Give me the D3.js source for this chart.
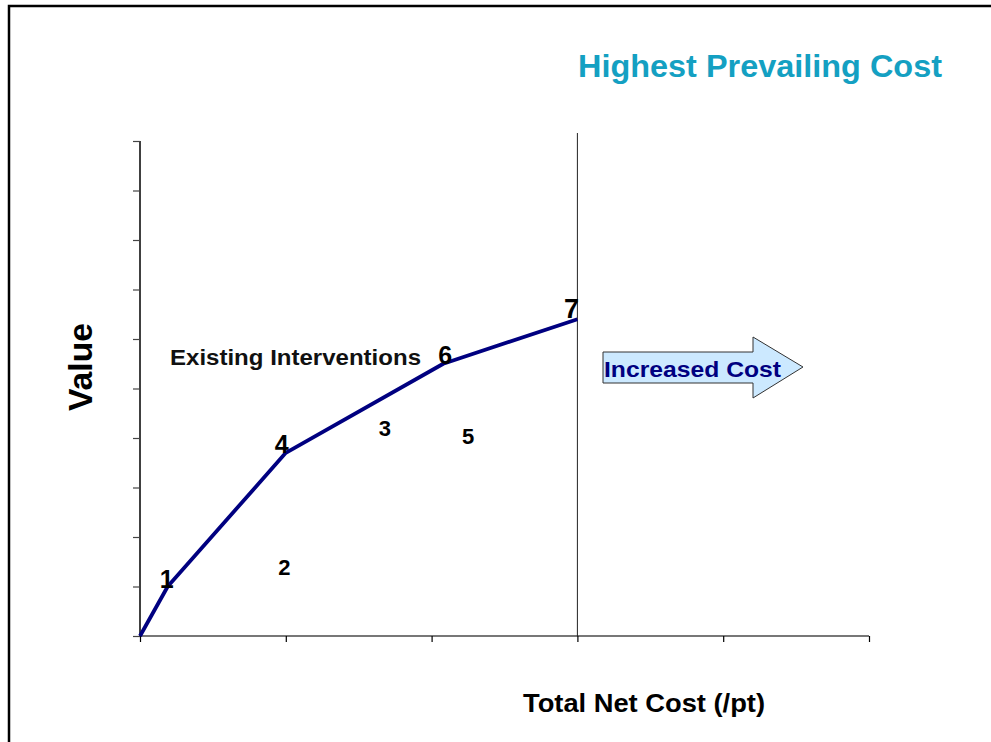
<!DOCTYPE html>
<html><head><meta charset="utf-8">
<script src="https://cdn.jsdelivr.net/npm/d3@7"></script>
<style>html,body{margin:0;padding:0;background:#fff;}svg{display:block;font-family:"Liberation Sans",Arial,sans-serif;}</style>
</head><body>
<svg id="chart" width="991" height="742"></svg>
<script>
// Frontier (efficient interventions) joined by the line
const frontierLabels = ["0", "1", "4", "6", "7"];
const frontierCost   = [0, 0.19, 1.0, 2.08, 3.0];
const frontierValue  = [0, 1.0, 3.7, 5.5, 6.4];
// Dominated interventions (labels only)
const otherLabels = ["2", "3", "5"];
const otherCost   = [0.99, 1.68, 2.25];
const otherValue  = [1.4, 4.2, 4.05];
const xTicks = [0, 1, 2, 3, 4, 5];
const yTicks = [0, 1, 2, 3, 4, 5, 6, 7, 8, 9, 10];
const prevailingCost = 3.0;

const svg = d3.select("#chart");
// frame
svg.append("path").attr("d","M9,760 L9,6 L1000,6").attr("fill","none").attr("stroke","#000").attr("stroke-width",2.5);

const x = d3.scaleLinear().domain([0,5]).range([140,869]);
const y = d3.scaleLinear().domain([0,10]).range([636,141]);

// y axis
const ya = svg.append("g").attr("transform","translate(140,0)")
  .call(d3.axisLeft(y).tickValues(yTicks).tickSize(7).tickFormat(""));
ya.select(".domain").attr("stroke","#000").attr("stroke-width",1.5).attr("d","M0,141V636");
ya.selectAll(".tick line").attr("stroke","#444").attr("stroke-width",1.2);

// x axis
const xa = svg.append("g").attr("transform","translate(0,636)")
  .call(d3.axisBottom(x).tickValues(xTicks).tickSize(6).tickFormat(""));
xa.select(".domain").attr("stroke","#777").attr("stroke-width",2).attr("d","M140,0H869");
xa.selectAll(".tick line").attr("stroke","#000").attr("stroke-width",1.2);

// prevailing cost line
svg.append("line").attr("x1",x(prevailingCost)).attr("x2",x(prevailingCost))
  .attr("y1",133).attr("y2",636).attr("stroke","#222").attr("stroke-width",1);

// frontier line
const pts = frontierCost.map((c,i)=>[x(c), y(frontierValue[i])]);
svg.append("path").attr("d", d3.line()(pts)).attr("fill","none")
  .attr("stroke","#000080").attr("stroke-width",3.8).attr("stroke-linejoin","round");

// frontier labels
const fOff = {"1":[-1,1],"4":[-4,0],"6":[2,0],"7":[-6,-1]};
const fSize = {"1":25,"4":25,"6":25,"7":27};
frontierLabels.forEach((l,i)=>{
  if(l==="0") return;
  svg.append("text").attr("x",pts[i][0]+fOff[l][0]).attr("y",pts[i][1]+fOff[l][1])
    .attr("text-anchor","middle").attr("font-weight","bold").attr("font-size",fSize[l])
    .attr("fill","#000").text(l);
});
// other labels
otherLabels.forEach((l,i)=>{
  svg.append("text").attr("x",x(otherCost[i])).attr("y",y(otherValue[i])+8)
    .attr("text-anchor","middle").attr("font-weight","bold").attr("font-size",22)
    .attr("fill","#000").text(l);
});

// texts
svg.append("text").attr("x",578).attr("y",77).attr("textLength",364).attr("lengthAdjust","spacingAndGlyphs")
  .attr("font-weight","bold").attr("font-size",31).attr("fill","#14a0c2").text("Highest Prevailing Cost");
svg.append("text").attr("x",170).attr("y",365).attr("textLength",251).attr("lengthAdjust","spacingAndGlyphs")
  .attr("font-weight","bold").attr("font-size",22).attr("fill","#111").text("Existing Interventions");
svg.append("text").attr("transform","translate(92,411) rotate(-90)").attr("textLength",88).attr("lengthAdjust","spacingAndGlyphs")
  .attr("font-weight","bold").attr("font-size",33).attr("fill","#000").text("Value");
svg.append("text").attr("x",523).attr("y",712).attr("textLength",242).attr("lengthAdjust","spacingAndGlyphs")
  .attr("font-weight","bold").attr("font-size",25).attr("fill","#000").text("Total Net Cost (/pt)");

// arrow
svg.append("path").attr("d","M603,352 L753,352 L753,337 L803,367 L753,398 L753,383 L603,383 Z")
  .attr("fill","#cce9ff").attr("stroke","#333").attr("stroke-width",1);
svg.append("text").attr("x",604).attr("y",377).attr("textLength",177).attr("lengthAdjust","spacingAndGlyphs")
  .attr("font-weight","bold").attr("font-size",22).attr("fill","#000080").text("Increased Cost");
</script>
</body></html>
